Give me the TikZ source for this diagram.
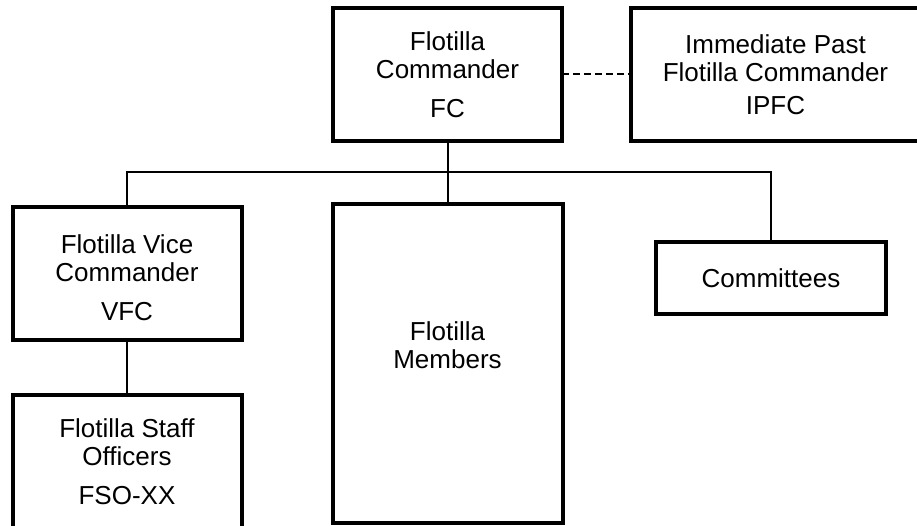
\documentclass[tikz,border=0pt]{standalone}
\usepackage{fontspec}
\setmainfont{Liberation Sans}
\begin{document}
\begin{tikzpicture}[x=1pt,y=-1pt,
  orgbox/.style={draw=black, line width=4pt, fill=white, inner sep=0pt, outer sep=0pt,
    align=center, font=\fontsize{26}{28}\selectfont},
  conn/.style={draw=black, line width=2pt},
  dashconn/.style={draw=black, line width=2pt, dash pattern=on 7pt off 4pt},
  txt/.style={inner sep=0pt, align=center, font=\fontsize{26}{28}\selectfont}]
\useasboundingbox (0,0) rectangle (917,526);
\fill[white] (0,0) rectangle (917,526);
% boxes
\node[orgbox, minimum width=229pt, minimum height=133pt] (fc) at (447.5,74.5)
  {Flotilla\\Commander\\[11pt]FC};
\node[orgbox, minimum width=289pt, minimum height=133pt] (ipfc) at (775.5,74.5)
  {Immediate Past\\Flotilla Commander\\[5pt]IPFC};
\node[orgbox, minimum width=229pt, minimum height=133pt] (vfc) at (127,273.5) {};
\node[txt] (vfctext) at ([yshift=-4pt]vfc.center)
  {Flotilla Vice\\Commander\\[11pt]VFC};
\node[orgbox, minimum width=229pt, minimum height=133pt] (fso) at (127,461.5)
  {Flotilla Staff\\Officers\\[11pt]FSO-XX};
\node[orgbox, minimum width=230pt, minimum height=319pt] (members) at (447.5,363.5) {};
\node[txt] (memberstext) at ([yshift=18pt]members.center) {Flotilla\\Members};
\node[orgbox, minimum width=230pt, minimum height=72pt] (comm) at (771,278) {Committees};
% connectors
\coordinate (bus) at (447.5,172);
\draw[dashconn] (fc.east) -- (ipfc.west);
\draw[conn] (fc.south) -- (members.north);
\draw[conn] (vfc.north) -- (vfc.north |- bus) -- (comm.north |- bus) -- (comm.north);
\draw[conn] (vfc.south) -- (fso.north);
\end{tikzpicture}
\end{document}
